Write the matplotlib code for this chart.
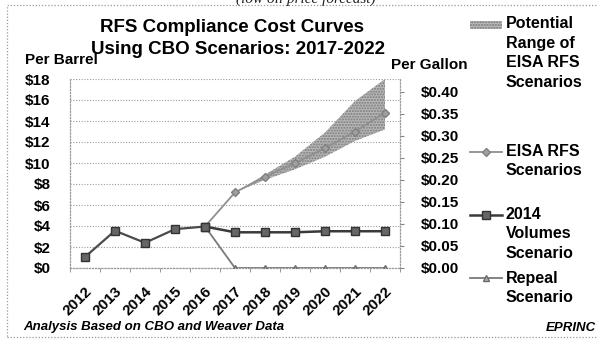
import matplotlib
matplotlib.use("Agg")
import matplotlib.pyplot as plt
from matplotlib.lines import Line2D
from matplotlib.patches import Rectangle
import numpy as np

plt.rcParams['font.family'] = ['Liberation Sans', 'DejaVu Sans']

# cost per barrel, dollars
years = ['2012', '2013', '2014', '2015', '2016', '2017', '2018', '2019',
         '2020', '2021', '2022']
history = [1.05, 3.55, 2.4, 3.7, 3.95]
eisa = [3.95, 7.2, 8.7, 10.0, 11.4, 13.0, 14.8]
eisa_low = [7.2, 8.4, 9.4, 10.6, 12.1, 13.2]
eisa_high = [7.2, 8.9, 10.6, 12.9, 15.9, 18.0]
volumes_2014 = [3.95, 3.4, 3.4, 3.4, 3.5, 3.5, 3.5]
repeal = [3.95, 0, 0, 0, 0, 0, 0]
left_ticks = [0, 2, 4, 6, 8, 10, 12, 14, 16, 18]
right_ticks = [0.0, 0.05, 0.10, 0.15, 0.20, 0.25, 0.30, 0.35, 0.40]
gal_per_bbl = 42.0

W, H = 598, 339


def fx(px):
    return px / W


def fy(py):
    return 1 - py / H


fig = plt.figure(figsize=(W / 100, H / 100), dpi=100)
ax = fig.add_axes([fx(70), fy(268), fx(400) - fx(70), fy(79) - fy(268)])

x = np.arange(len(years))
x_hist = x[:5]
x_proj = x[4:]
x_band = x[5:]

ax.fill_between(x_band, eisa_low, eisa_high, facecolor='#b8b8b8',
                edgecolor='#7a7a7a', hatch='......', linewidth=0, zorder=2)
ax.plot(x_proj, repeal, color='#7a7a7a', lw=1.3, marker='^', ms=5,
        mfc='#b0b0b0', mec='#6a6a6a', zorder=3)
ax.plot(x_proj, eisa, color='#8f8f8f', lw=1.3, marker='D', ms=4,
        mfc='#a0a0a0', mec='#808080', zorder=4)
ax.plot(x_proj, volumes_2014, color='#3a3a3a', lw=1.8, marker='s', ms=6,
        mfc='#666666', mec='#333333', zorder=5)
ax.plot(x_hist, history, color='#4a4a4a', lw=1.6, marker='s', ms=6,
        mfc='#666666', mec='#333333', zorder=5)

ax.set_xlim(-0.5, len(years) - 0.5)
ax.set_ylim(0, 18)
ax.set_yticks(left_ticks)
ax.set_yticklabels(['$%d' % v for v in left_ticks], fontsize=11,
                   fontweight='bold')
ax.tick_params(axis='y', length=0, pad=14)
ax.grid(axis='y', color='#9a9a9a', ls=(0, (1, 1.5)), lw=0.8)
ax.set_axisbelow(True)

ax.set_xticks(x)
ax.set_xticklabels(years, fontsize=11, fontweight='bold', rotation=45,
                   ha='right', rotation_mode='anchor')
ax.set_xticks(np.arange(-0.5, len(years), 1.0), minor=True)
ax.tick_params(axis='x', which='major', length=0, pad=12)
ax.tick_params(axis='x', which='minor', length=3, color='#888888')

for s in ax.spines.values():
    s.set_color('#9a9a9a')
    s.set_linestyle((0, (1, 1.5)))
    s.set_linewidth(0.9)
ax.spines['top'].set_visible(False)

ax2 = ax.twinx()
ax2.set_ylim(0, 18 / gal_per_bbl)
ax2.set_yticks(right_ticks)
ax2.set_yticklabels(['$%.2f' % v for v in right_ticks], fontsize=11,
                    fontweight='bold')
ax2.tick_params(axis='y', length=3, color='#888888', pad=12)
for s in ax2.spines.values():
    s.set_visible(False)

# titles and axis captions
fig.text(fx(232), fy(27), 'RFS Compliance Cost Curves', ha='center',
         va='center', fontsize=13.5, fontweight='bold')
fig.text(fx(238), fy(50), 'Using CBO Scenarios: 2017-2022', ha='center',
         va='center', fontsize=13.5, fontweight='bold')
fig.text(fx(25), fy(60), 'Per Barrel', ha='left', va='center', fontsize=11,
         fontweight='bold')
fig.text(fx(468), fy(65), 'Per Gallon', ha='right', va='center',
         fontsize=11, fontweight='bold')
fig.text(fx(23), fy(327), 'Analysis Based on CBO and Weaver Data',
         ha='left', va='center', fontsize=9.5, fontweight='bold',
         style='italic')
fig.text(fx(596), fy(328), 'EPRINC', ha='right', va='center', fontsize=9.5,
         fontweight='bold', style='italic')
fig.text(fx(306), fy(3), '(low oil price forecast)', ha='center',
         va='baseline', fontsize=11, style='italic',
         family=['Liberation Serif', 'DejaVu Serif'], color='#222222')

# outer frame
frame = Rectangle((fx(7), fy(337)), fx(620) - fx(7), fy(5) - fy(337),
                  transform=fig.transFigure, fill=False, ec='#9a9a9a',
                  lw=0.9, ls=(0, (1, 1.5)))
fig.patches.append(frame)

# legend
legend_font = dict(fontsize=11.5, fontweight='bold', ha='left',
                   va='center', linespacing=1.4)
fig.patches.append(Rectangle((fx(470), fy(29)), fx(502) - fx(470),
                             fy(21) - fy(29), transform=fig.transFigure,
                             facecolor='#b8b8b8', edgecolor='#7a7a7a',
                             hatch='......', lw=0))
fig.text(fx(506), fy(53), 'Potential\nRange of\nEISA RFS\nScenarios',
         **legend_font)

fig.lines.append(Line2D([fx(470), fx(486), fx(502)], [fy(152)] * 3,
                        transform=fig.transFigure, color='#8f8f8f', lw=1.3,
                        marker='D', ms=4, mfc='#a0a0a0', mec='#808080',
                        markevery=[1]))
fig.text(fx(506), fy(161), 'EISA RFS\nScenarios', **legend_font)

fig.lines.append(Line2D([fx(470), fx(486), fx(502)], [fy(215)] * 3,
                        transform=fig.transFigure, color='#3a3a3a', lw=1.8,
                        marker='s', ms=6, mfc='#666666', mec='#333333',
                        markevery=[1]))
fig.text(fx(506), fy(234), '2014\nVolumes\nScenario', **legend_font)

fig.lines.append(Line2D([fx(470), fx(486), fx(502)], [fy(278)] * 3,
                        transform=fig.transFigure, color='#7a7a7a', lw=1.3,
                        marker='^', ms=5, mfc='#b0b0b0', mec='#6a6a6a',
                        markevery=[1]))
fig.text(fx(506), fy(288), 'Repeal\nScenario', **legend_font)

fig.savefig('out.png', dpi=100)
